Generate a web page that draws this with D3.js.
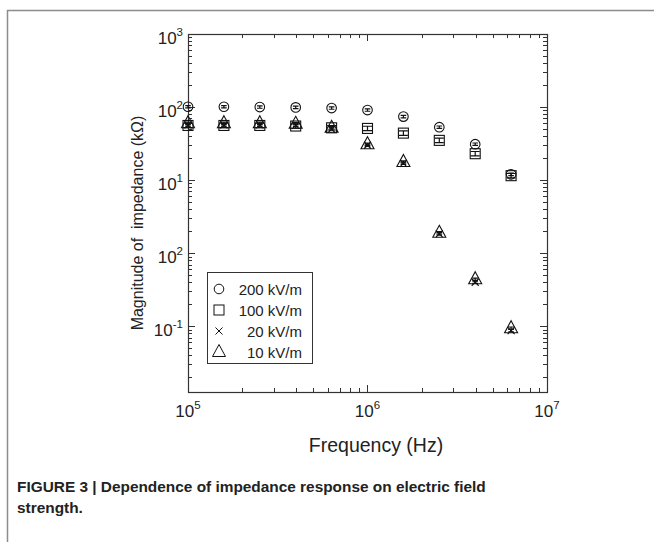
<!DOCTYPE html>
<html>
<head>
<meta charset="utf-8">
<script src="https://cdn.jsdelivr.net/npm/d3@7"></script>
<style>
  body { margin: 0; background: #fff; }
  text { font-family: "Liberation Sans", Arial, sans-serif; fill: #222; }
</style>
</head>
<body>
<div id="chart"></div>
<script>
"use strict";

// frequencies (Hz) and impedance magnitude (kOhm) for each field strength
const freqHz = [1e5, 1.585e5, 2.512e5, 3.981e5, 6.31e5, 1e6, 1.585e6, 2.512e6, 3.981e6, 6.31e6];
const z200 = [101, 101, 100, 99, 97, 91, 74, 53, 31, 12];
const z100 = [56, 56, 56, 55, 52, 51, 44, 35, 23, 11.5];
const z20 = [57, 57, 57, 56, 50, 30, 17, 1.84, 0.40, 0.087];
const z10 = [60, 60, 60, 59, 52, 31, 17.7, 1.9, 0.44, 0.094];

const seriesNames = ["200 kV/m", "100 kV/m", "20 kV/m", "10 kV/m"];
const seriesSymbols = ["circle", "square", "cross", "triangle"];

const xTickValues = [1e5, 1e6, 1e7];
const xTickExp = ["5", "6", "7"];
const yTickValues = [1e3, 1e2, 1e1, 1e0, 1e-1];
const yTickExp = ["3", "2", "1", "2", "-1"];   // as printed in the figure

const width = 654, height = 542;
const margin = {top: 34, right: 107, bottom: 150, left: 188};

const svg = d3.select("#chart").append("svg")
  .attr("width", width)
  .attr("height", height);

// outer frame of the figure panel
svg.append("path")
  .attr("d", `M7.5,${height} V10.5 H${width}`)
  .attr("fill", "none")
  .attr("stroke", "#8c8c8c")
  .attr("stroke-width", 1.5);

const x = d3.scaleLog().domain([1e5, 1e7]).range([margin.left, width - margin.right]);
const y = d3.scaleLog().domain([Math.pow(10, -1.9), 1e3]).range([height - margin.bottom, margin.top]);

const x0 = x.range()[0], x1 = x.range()[1];
const y0 = y.range()[0], y1 = y.range()[1];

const axisColor = "#333";

// ticks (inward on all four sides, like matlab box on)
const xMinor = x.ticks().filter(v => v >= 1e5 && v <= 1e7);
const yMinor = y.ticks().filter(v => v >= y.domain()[0] && v <= 1e3);
const isMajor = v => Math.abs(Math.log10(v) - Math.round(Math.log10(v))) < 1e-6;

const tickG = svg.append("g").attr("stroke", axisColor).attr("stroke-width", 1);
xMinor.forEach(v => {
  const len = isMajor(v) ? 7 : 4;
  const px = Math.round(x(v)) + 0.5;
  tickG.append("line").attr("x1", px).attr("x2", px).attr("y1", y0).attr("y2", y0 - len);
  tickG.append("line").attr("x1", px).attr("x2", px).attr("y1", y1).attr("y2", y1 + len);
});
yMinor.forEach(v => {
  const len = isMajor(v) ? 7 : 4;
  const py = Math.round(y(v)) + 0.5;
  tickG.append("line").attr("y1", py).attr("y2", py).attr("x1", x0).attr("x2", x0 + len);
  tickG.append("line").attr("y1", py).attr("y2", py).attr("x1", x1).attr("x2", x1 - len);
});

// box
svg.append("rect")
  .attr("x", x0 + 0.5).attr("y", y1 + 0.5)
  .attr("width", x1 - x0).attr("height", y0 - y1)
  .attr("fill", "none")
  .attr("stroke", axisColor)
  .attr("stroke-width", 1.2);

// tick labels
xTickValues.forEach((v, i) => {
  const t = svg.append("text")
    .attr("x", x(v))
    .attr("y", y0 + 25)
    .attr("text-anchor", "middle")
    .style("font-size", "17px");
  t.append("tspan").text("10");
  t.append("tspan").attr("dy", -8).style("font-size", "11.5px").text(xTickExp[i]);
});
yTickValues.forEach((v, i) => {
  const t = svg.append("text")
    .attr("x", x0 - 5)
    .attr("y", y(v) + 10)
    .attr("text-anchor", "end")
    .style("font-size", "17px");
  t.append("tspan").text("10");
  t.append("tspan").attr("dy", -8).style("font-size", "11.5px").text(yTickExp[i]);
});

// axis titles
svg.append("text")
  .attr("x", 376)
  .attr("y", y0 + 60)
  .attr("text-anchor", "middle")
  .style("font-size", "19.5px")
  .text("Frequency (Hz)");

svg.append("text")
  .attr("transform", `translate(143,223) rotate(-90)`)
  .attr("text-anchor", "middle")
  .style("font-size", "16px")
  .style("white-space", "pre")
  .text("Magnitude of  impedance (k\u03A9)");

// markers
function drawSymbol(g, type, cx, cy) {
  const s = g.append("g")
    .attr("fill", "none")
    .attr("stroke", "#111")
    .attr("stroke-width", 1.1);
  if (type === "circle") {
    s.append("circle").attr("cx", cx).attr("cy", cy).attr("r", 4.8);
  } else if (type === "square") {
    s.append("rect").attr("x", cx - 5).attr("y", cy - 5).attr("width", 10).attr("height", 10);
  } else if (type === "cross") {
    s.append("path").attr("d", `M${cx - 3.5},${cy - 3.5}L${cx + 3.5},${cy + 3.5}M${cx - 3.5},${cy + 3.5}L${cx + 3.5},${cy - 3.5}`);
  } else if (type === "triangle") {
    s.append("path").attr("d", `M${cx},${cy - 7.5}L${cx + 6.5},${cy + 4.5}L${cx - 6.5},${cy + 4.5}Z`);
  }
  return s;
}

// small error bars inside each marker
function drawErr(g, type, cx, cy) {
  const h = type === "square" ? 2.2 : 1.2;
  const w = type === "square" ? 4.5 : 2.8;
  g.append("path")
    .attr("d", `M${cx - w},${cy - h}H${cx + w}M${cx - w},${cy + h}H${cx + w}M${cx},${cy - h}V${cy + h}`)
    .attr("stroke", "#111")
    .attr("stroke-width", 1.2)
    .attr("fill", "none");
}

const seriesData = [z200, z100, z20, z10];
const markG = svg.append("g");
seriesData.forEach((vals, si) => {
  vals.forEach((v, i) => {
    const cx = x(freqHz[i]), cy = y(v);
    drawSymbol(markG, seriesSymbols[si], cx, cy);
    drawErr(markG, seriesSymbols[si], cx, cy);
  });
});

// legend
const lg = svg.append("g");
lg.append("rect")
  .attr("x", 207.5).attr("y", 272.5)
  .attr("width", 105).attr("height", 91)
  .attr("fill", "#fff")
  .attr("stroke", axisColor)
  .attr("stroke-width", 1);
seriesNames.forEach((name, i) => {
  const cy = 289 + i * 21;
  drawSymbol(lg, seriesSymbols[i], 219, cy).attr("stroke-width", 1);
  lg.append("text")
    .attr("x", 302)
    .attr("y", cy + 5.5)
    .attr("text-anchor", "end")
    .style("font-size", "15px")
    .text(name);
});

// caption
const cap = svg.append("text")
  .attr("x", 17)
  .attr("y", 492)
  .style("font-size", "15.4px")
  .style("font-weight", "bold");
cap.append("tspan").attr("x", 17).text("FIGURE 3 | Dependence of impedance response on electric field");
cap.append("tspan").attr("x", 17).attr("dy", 21).text("strength.");
</script>
</body>
</html>
